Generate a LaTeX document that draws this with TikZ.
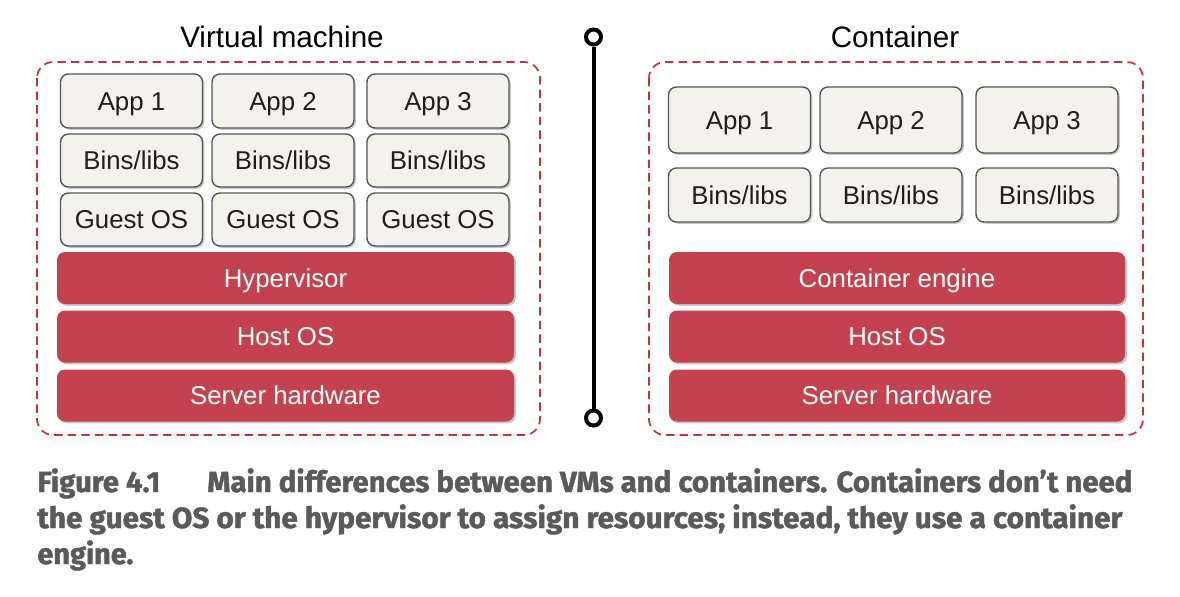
\documentclass[tikz,border=0pt]{standalone}
\usepackage{fontspec}
\setmainfont{Liberation Sans}
\newfontfamily\capfont[BoldFeatures={FakeBold=1.6}]{Fira Sans}
\usetikzlibrary{shadows}
\definecolor{lightfill}{HTML}{F3F2EC}
\definecolor{boxedge}{HTML}{565656}
\definecolor{redfill}{HTML}{C4424F}
\definecolor{framered}{HTML}{C8313C}
\definecolor{captiongray}{HTML}{5A5A5A}
\definecolor{txt}{HTML}{1E1E1E}
\newsavebox\capbox
\newcommand\fitline[2]{\sbox\capbox{#2}\pgfmathsetmacro\capsx{#1/\the\wd\capbox}\scalebox{\capsx}[1]{\usebox\capbox}}
\tikzset{
  boxshadow/.style={drop shadow={shadow xshift=0.9pt, shadow yshift=-0.9pt, opacity=0.22, fill=black}},
  boxfont/.style={font=\fontsize{12.9}{15}\selectfont, text height=9.2pt, text depth=0pt},
  lightbox/.style={draw=boxedge, line width=0.7pt, fill=lightfill, rounded corners=4pt,
    minimum width=71pt, inner sep=0pt, text=txt, boxfont, boxshadow},
  redbox/.style={fill=redfill, rounded corners=4pt, inner sep=0pt, text=white,
    minimum height=26pt, boxfont, boxshadow},
  frame/.style={draw=framered, line width=0.85pt, dash pattern=on 4.2pt off 2.6pt, rounded corners=8pt},
  titletext/.style={text=black, font=\fontsize{14.8}{17}\selectfont, inner sep=0pt},
  pin/.style={circle, draw=black, fill=white, line width=2pt, minimum size=7.5pt, inner sep=0pt},
  capline/.style={anchor=base west, inner sep=0pt, text=captiongray, font=\capfont\bfseries\fontsize{14.6}{17}\selectfont}
}
\begin{document}
\begin{tikzpicture}[x=0.5pt,y=-0.5pt]
\useasboundingbox (0,0) rectangle (1180,596);
% frames
\draw[frame] (37,62) rectangle (540,435);
\draw[frame] (649,62) rectangle (1143,435);
% titles
\node[titletext] (vmtitle) at (282,37) {Virtual machine};
\node[titletext] (cttitle) at (895,37) {Container};
% separator
\node[pin] (pintop) at (593.5,37) {};
\node[pin] (pinbot) at (593.5,418) {};
\draw[line width=2pt] (pintop) -- (pinbot);
% VM side
\node[lightbox, minimum height=27pt] (vapp1) at (131.5,101) {App 1};
\node[lightbox, minimum height=27pt] (vapp2) at (283,101) {App 2};
\node[lightbox, minimum height=27pt] (vapp3) at (438,101) {App 3};
\node[lightbox, minimum height=26.5pt] (vbin1) at (131.5,160.5) {Bins/libs};
\node[lightbox, minimum height=26.5pt] (vbin2) at (283,160.5) {Bins/libs};
\node[lightbox, minimum height=26.5pt] (vbin3) at (438,160.5) {Bins/libs};
\node[lightbox, minimum height=26.5pt] (vos1) at (131.5,219.5) {Guest OS};
\node[lightbox, minimum height=26.5pt] (vos2) at (283,219.5) {Guest OS};
\node[lightbox, minimum height=26.5pt] (vos3) at (438,219.5) {Guest OS};
\node[redbox, minimum width=228.5pt] (vhyp) at (285.5,278) {Hypervisor};
\node[redbox, minimum width=228.5pt] (vhost) at (285.5,336.5) {Host OS};
\node[redbox, minimum width=228.5pt] (vhw) at (285.5,395.5) {Server hardware};
% Container side
\node[lightbox, minimum height=33pt] (capp1) at (739.5,120) {App 1};
\node[lightbox, minimum height=33pt] (capp2) at (891,120) {App 2};
\node[lightbox, minimum height=33pt] (capp3) at (1047,120) {App 3};
\node[lightbox, minimum height=27pt] (cbin1) at (739.5,195) {Bins/libs};
\node[lightbox, minimum height=27pt] (cbin2) at (891,195) {Bins/libs};
\node[lightbox, minimum height=27pt] (cbin3) at (1047,195) {Bins/libs};
\node[redbox, minimum width=228pt] (ceng) at (897,278) {Container engine};
\node[redbox, minimum width=228pt] (chost) at (897,336.5) {Host OS};
\node[redbox, minimum width=228pt] (chw) at (897,395.5) {Server hardware};
% caption
\node[capline] (cap1) at (37,492) {\fitline{547.5}{Figure 4.1\hspace{1.6em}Main differences between VMs and containers. Containers don’t need}};
\node[capline] (cap2) at (37,528) {\fitline{542.5}{the guest OS or the hypervisor to assign resources; instead, they use a container}};
\node[capline] (cap3) at (37,564) {\fitline{48}{engine.}};
\end{tikzpicture}
\end{document}
